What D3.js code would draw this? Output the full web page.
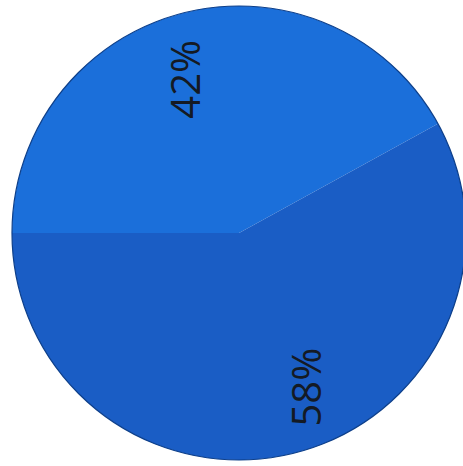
<!DOCTYPE html>
<html><head><meta charset="utf-8">
<script src="https://cdn.jsdelivr.net/npm/d3@7"></script>
<style>html,body{margin:0;padding:0;background:#fff;}svg{display:block;}</style>
</head><body>
<svg id="chart" width="463" height="466"></svg>
<script>
const categories = ["A", "B"];
const values = [42, 58];
const labels = ["42%", "58%"];
const colors = ["#1B6FDA", "#1A5DC5"];

const W = 463, H = 466;
const cx = 239, cy = 233, R = 227;
const svg = d3.select("#chart");
const g = svg.append("g").attr("transform", `translate(${cx},${cy})`);

const pie = d3.pie().sort(null).value(d => d).startAngle(-Math.PI / 2).endAngle(1.5 * Math.PI);
const arcs = pie(values);
const arc = d3.arc().innerRadius(0).outerRadius(R);

g.selectAll("path.slice").data(arcs).enter().append("path")
  .attr("class", "slice")
  .attr("d", arc)
  .attr("fill", (d, i) => colors[i]);

g.append("circle").attr("r", R).attr("fill", "none").attr("stroke", "#0d3f8a").attr("stroke-width", 1.2);

const labelR = [163, 168];
const angleShift = [-5 * Math.PI / 180, -9 * Math.PI / 180];
g.selectAll("text.lab").data(arcs).enter().append("text")
  .attr("class", "lab")
  .attr("transform", (d, i) => {
    const a = (d.startAngle + d.endAngle) / 2 + angleShift[i];
    const x = Math.sin(a) * labelR[i], y = -Math.cos(a) * labelR[i];
    return `translate(${x},${y}) rotate(-90)`;
  })
  .attr("text-anchor", "middle")
  .attr("dominant-baseline", "central")
  .attr("font-family", "'Open Sans', Lato, sans-serif")
  .attr("font-size", 40)
  .attr("fill", "#141a24")
  .text((d, i) => labels[i]);
</script>
</body></html>
